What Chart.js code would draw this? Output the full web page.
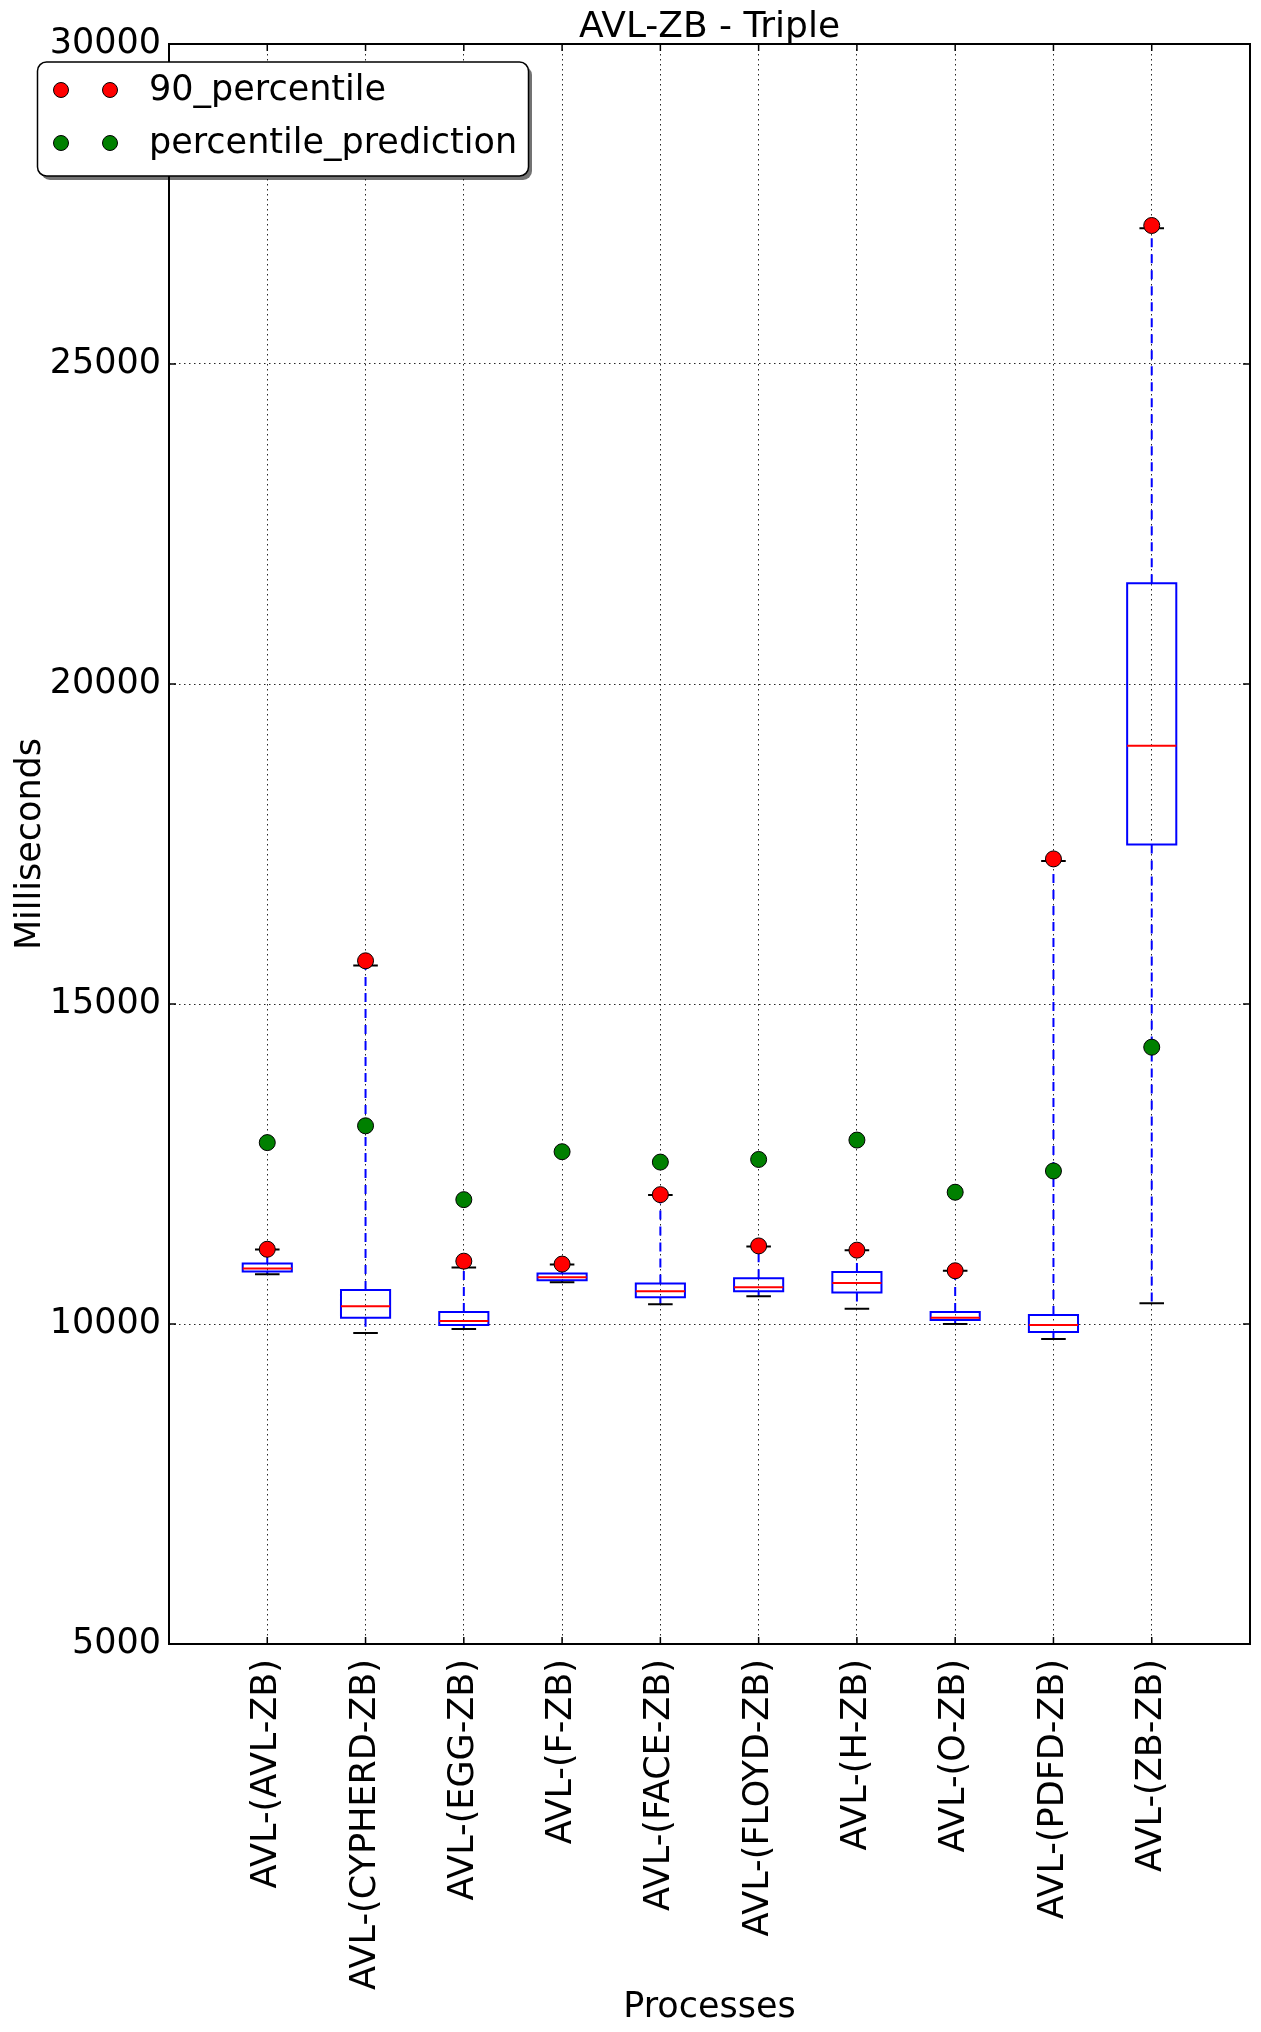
<!DOCTYPE html>
<html>
<head>
<meta charset="utf-8">
<title>AVL-ZB - Triple</title>
<script src="https://cdn.jsdelivr.net/npm/chart.js@4.4.1/dist/chart.umd.min.js"></script>
<style>
  html, body { margin: 0; padding: 0; background: #fff; }
  canvas { display: block; }
</style>
</head>
<body>
<canvas id="chart" width="1261" height="2032"></canvas>
<script>
// values (milliseconds)
var categories = [
  'AVL-(AVL-ZB)', 'AVL-(CYPHERD-ZB)', 'AVL-(EGG-ZB)', 'AVL-(F-ZB)', 'AVL-(FACE-ZB)',
  'AVL-(FLOYD-ZB)', 'AVL-(H-ZB)', 'AVL-(O-ZB)', 'AVL-(PDFD-ZB)', 'AVL-(ZB-ZB)'
];
var whiskerLow  = [10776,  9860,  9922, 10651, 10310, 10434, 10239, 10000,  9766, 10326];
var q1          = [10822, 10098,  9984, 10682, 10419, 10512, 10494, 10062,  9875, 17492];
var median      = [10869, 10279, 10047, 10729, 10512, 10574, 10640, 10099,  9984, 19035];
var q3          = [10946, 10533, 10186, 10791, 10631, 10713, 10811, 10187, 10140, 21575];
var whiskerHigh = [11163, 15600, 10884, 10931, 12016, 11210, 11154, 10832, 17235, 27120];
var p90         = [11168, 15675, 10982, 10936, 12021, 11220, 11154, 10832, 17267, 27164];
var prediction  = [12834, 13097, 11943, 12692, 12530, 12571, 12874, 12059, 12391, 14325];
var yTickValues = [5000, 10000, 15000, 20000, 25000, 30000];
var titleText = 'AVL-ZB - Triple';

var BOX_HALF = 0.25;
var CAP_HALF = 0.125;
var FONT = '"DejaVu Sans", "Liberation Sans", sans-serif';

function points(values) {
  return values.map(function (v, i) { return { x: i + 1, y: v }; });
}

function boxPath() {
  var pts = [];
  for (var i = 0; i < categories.length; i++) {
    var x = i + 1;
    pts.push(
      { x: x - BOX_HALF, y: q1[i] }, { x: x - BOX_HALF, y: q3[i] },
      { x: x + BOX_HALF, y: q3[i] }, { x: x + BOX_HALF, y: q1[i] },
      { x: x - BOX_HALF, y: q1[i] }, { x: x, y: null }
    );
  }
  return pts;
}

function hLines(values, half) {
  var pts = [];
  values.forEach(function (v, i) {
    pts.push({ x: i + 1 - half, y: v }, { x: i + 1 + half, y: v }, { x: i + 1, y: null });
  });
  return pts;
}

function whiskerPath() {
  var pts = [];
  for (var i = 0; i < categories.length; i++) {
    var x = i + 1;
    pts.push({ x: x, y: q3[i] }, { x: x, y: whiskerHigh[i] }, { x: x, y: null });
    pts.push({ x: x, y: q1[i] }, { x: x, y: whiskerLow[i] }, { x: x, y: null });
  }
  return pts;
}

function lineSet(data, color, extra) {
  var ds = {
    type: 'line', data: data, borderColor: color, borderWidth: 2,
    pointRadius: 0, spanGaps: false, tension: 0, fill: false
  };
  for (var k in extra) { ds[k] = extra[k]; }
  return ds;
}

// title centred over the plot area, like matplotlib
var plotTitle = {
  id: 'plotTitle',
  afterDraw: function (chart) {
    var a = chart.chartArea, ctx = chart.ctx;
    ctx.save();
    ctx.font = '36px ' + FONT;
    ctx.fillStyle = '#000';
    ctx.textAlign = 'center';
    ctx.textBaseline = 'alphabetic';
    ctx.fillText(titleText, (a.left + a.right) / 2, 37);
    ctx.restore();
  }
};

// fixed plot frame, inward ticks on all four sides
var frame = {
  id: 'frame',
  afterDraw: function (chart) {
    var a = chart.chartArea, ctx = chart.ctx;
    var xs = chart.scales.x, ys = chart.scales.y;
    ctx.save();
    ctx.strokeStyle = '#000';
    ctx.lineWidth = 1.5;
    ctx.beginPath();
    yTickValues.forEach(function (v) {
      var y = ys.getPixelForValue(v);
      ctx.moveTo(a.left, y); ctx.lineTo(a.left + 7, y);
      ctx.moveTo(a.right, y); ctx.lineTo(a.right - 7, y);
    });
    categories.forEach(function (c, i) {
      var x = xs.getPixelForValue(i + 1);
      ctx.moveTo(x, a.bottom); ctx.lineTo(x, a.bottom - 7);
      ctx.moveTo(x, a.top); ctx.lineTo(x, a.top + 7);
    });
    ctx.stroke();
    ctx.lineWidth = 2;
    ctx.strokeRect(a.left, a.top, a.right - a.left, a.bottom - a.top);
    ctx.restore();
  }
};

// matplotlib-like legend box in the upper left corner
var legendBox = {
  id: 'legendBox',
  afterDraw: function (chart) {
    var ctx = chart.ctx;
    var items = chart.data.datasets.filter(function (d) { return d.inLegend; });
    ctx.save();
    ctx.beginPath();
    ctx.roundRect(41, 66, 491, 114, 9);
    ctx.fillStyle = 'rgba(0,0,0,0.55)';
    ctx.fill();
    ctx.beginPath();
    ctx.roundRect(37.5, 62, 491, 114, 9);
    ctx.fillStyle = '#fff';
    ctx.fill();
    ctx.strokeStyle = '#000';
    ctx.lineWidth = 1.5;
    ctx.stroke();
    ctx.font = '35px ' + FONT;
    ctx.textBaseline = 'middle';
    items.forEach(function (d, k) {
      var y = 90 + k * 53;
      [61, 110].forEach(function (x) {
        ctx.beginPath();
        ctx.arc(x, y, 7.5, 0, Math.PI * 2);
        ctx.fillStyle = d.backgroundColor;
        ctx.fill();
        ctx.lineWidth = 1;
        ctx.strokeStyle = '#000';
        ctx.stroke();
      });
      ctx.fillStyle = '#000';
      ctx.fillText(d.label, 149, y + 1);
    });
    ctx.restore();
  }
};

Chart.defaults.font.family = FONT;
Chart.defaults.font.size = 35;
Chart.defaults.color = '#000';

var gridStyle = { color: 'rgba(0,0,0,0.85)', lineWidth: 1, drawTicks: false };
var borderStyle = { display: false, dash: [1.5, 3.5] };

new Chart(document.getElementById('chart').getContext('2d'), {
  type: 'scatter',
  data: {
    datasets: [
      {
        label: '90_percentile', inLegend: true, data: points(p90),
        backgroundColor: '#ff0000', borderColor: '#000', borderWidth: 1, pointRadius: 8
      },
      {
        label: 'percentile_prediction', inLegend: true, data: points(prediction),
        backgroundColor: '#008000', borderColor: '#000', borderWidth: 1, pointRadius: 8
      },
      lineSet(hLines(median, BOX_HALF), '#ff0000', { label: 'median' }),
      lineSet(hLines(whiskerHigh, CAP_HALF), '#000', { label: 'caps' }),
      lineSet(hLines(whiskerLow, CAP_HALF), '#000', { label: 'caps low' }),
      lineSet(boxPath(), '#0000ff', { label: 'boxes', borderJoinStyle: 'miter', borderCapStyle: 'square' }),
      lineSet(whiskerPath(), '#0000ff', { label: 'whiskers', borderDash: [9, 7] })
    ]
  },
  options: {
    responsive: false,
    devicePixelRatio: 1,
    animation: false,
    events: [],
    layout: { padding: { left: 0, right: 11, top: 44, bottom: 0 } },
    plugins: {
      legend: { display: false },
      tooltip: { enabled: false },
      title: { display: false }
    },
    scales: {
      x: {
        type: 'linear', min: 0, max: 11, z: 1,
        border: borderStyle,
        grid: gridStyle,
        ticks: {
          stepSize: 1, autoSkip: false, maxRotation: 90, minRotation: 90, padding: 15,
          callback: function (v) { return categories[v - 1] || ''; }
        },
        title: { display: true, text: 'Processes', padding: { top: 0, bottom: 3 } },
        afterFit: function (s) {
          s.height = 388;
          s.paddingLeft = 0; s.paddingRight = 0;
        }
      },
      y: {
        type: 'linear', min: 5000, max: 30000, z: 1,
        border: borderStyle,
        grid: gridStyle,
        ticks: {
          padding: 8,
          callback: function (v) { return String(v); }
        },
        afterBuildTicks: function (s) {
          s.ticks = yTickValues.map(function (v) { return { value: v }; });
        },
        title: { display: true, text: 'Milliseconds', padding: { top: 10, bottom: 0 } },
        afterFit: function (s) {
          s.width = 169;
          s.paddingTop = 0; s.paddingBottom = 0;
        }
      }
    }
  },
  plugins: [plotTitle, frame, legendBox]
});
</script>
</body>
</html>
